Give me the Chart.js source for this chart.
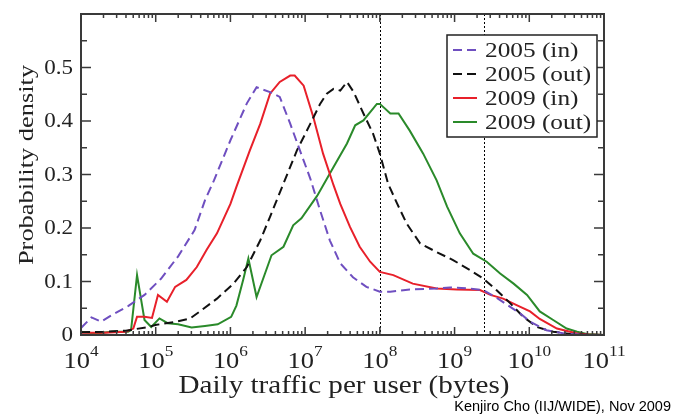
<!DOCTYPE html>
<html>
<head>
<meta charset="utf-8">
<script src="https://cdn.jsdelivr.net/npm/chart.js@4/dist/chart.umd.min.js"></script>
<style>
  body { margin: 0; background: #fff; }
</style>
</head>
<body>
<canvas id="myChart" width="673" height="417"></canvas>
<script>
// log10 of bytes per day, and probability density
const in2005X = [4.0, 4.14, 4.27, 4.41, 4.63, 4.85, 5.07, 5.3, 5.52, 5.66, 5.78, 6.0, 6.22, 6.35, 6.53, 6.66, 6.8, 6.93, 7.07, 7.2, 7.33, 7.47, 7.64, 7.82, 8.0, 8.14, 8.4, 8.76, 8.94, 9.2, 9.38, 9.56, 9.74, 9.88, 10.01, 10.23, 10.5, 10.8, 11.0];
const in2005Y = [0.013, 0.033, 0.025, 0.037, 0.054, 0.075, 0.105, 0.147, 0.196, 0.252, 0.289, 0.364, 0.433, 0.463, 0.454, 0.445, 0.395, 0.345, 0.292, 0.233, 0.177, 0.134, 0.108, 0.09, 0.081, 0.081, 0.085, 0.087, 0.089, 0.087, 0.084, 0.07, 0.053, 0.04, 0.025, 0.009, 0.002, 0.0, 0.0];

const out2005X = [4.0, 4.3, 4.6, 4.9, 5.01, 5.28, 5.46, 5.59, 5.82, 6.04, 6.22, 6.4, 6.53, 6.71, 6.89, 7.07, 7.2, 7.29, 7.38, 7.47, 7.56, 7.65, 7.78, 7.91, 8.0, 8.11, 8.23, 8.36, 8.54, 8.76, 8.98, 9.21, 9.38, 9.56, 9.74, 9.92, 10.1, 10.32, 10.6, 11.0];
const out2005Y = [0.005, 0.006, 0.008, 0.015, 0.019, 0.025, 0.031, 0.044, 0.068, 0.096, 0.127, 0.177, 0.221, 0.283, 0.345, 0.395, 0.432, 0.451, 0.46, 0.457, 0.473, 0.454, 0.414, 0.376, 0.339, 0.283, 0.246, 0.208, 0.171, 0.155, 0.14, 0.121, 0.106, 0.084, 0.06, 0.034, 0.015, 0.006, 0.001, 0.0];

const in2009X = [4.0, 4.3, 4.6, 4.7, 4.75, 4.85, 4.95, 5.03, 5.15, 5.26, 5.41, 5.55, 5.68, 5.82, 6.0, 6.08, 6.26, 6.4, 6.53, 6.66, 6.8, 6.86, 6.98, 7.11, 7.24, 7.38, 7.47, 7.6, 7.73, 7.87, 8.0, 8.18, 8.44, 8.76, 9.03, 9.34, 9.48, 9.65, 9.83, 10.01, 10.14, 10.37, 10.64, 10.8, 11.0];
const in2009Y = [0.004, 0.004, 0.006, 0.012, 0.034, 0.034, 0.032, 0.075, 0.062, 0.09, 0.103, 0.127, 0.159, 0.19, 0.245, 0.277, 0.345, 0.395, 0.451, 0.473, 0.485, 0.485, 0.466, 0.407, 0.339, 0.28, 0.245, 0.202, 0.165, 0.137, 0.118, 0.112, 0.096, 0.087, 0.085, 0.084, 0.075, 0.068, 0.056, 0.044, 0.03, 0.012, 0.003, 0.001, 0.0];

const out2009X = [4.0, 4.2, 4.41, 4.63, 4.67, 4.75, 4.85, 4.94, 5.05, 5.16, 5.3, 5.48, 5.66, 5.83, 6.01, 6.08, 6.17, 6.24, 6.35, 6.55, 6.71, 6.84, 6.95, 7.16, 7.38, 7.56, 7.67, 7.78, 7.96, 8.0, 8.14, 8.25, 8.4, 8.58, 8.76, 8.9, 9.07, 9.25, 9.43, 9.61, 9.79, 9.97, 10.14, 10.32, 10.5, 10.64, 10.77, 11.0];
const out2009Y = [0.006, 0.003, 0.006, 0.006, 0.009, 0.112, 0.028, 0.015, 0.031, 0.022, 0.02, 0.014, 0.017, 0.02, 0.034, 0.055, 0.103, 0.143, 0.071, 0.149, 0.165, 0.205, 0.218, 0.26, 0.314, 0.358, 0.392, 0.401, 0.432, 0.432, 0.414, 0.414, 0.382, 0.339, 0.289, 0.24, 0.19, 0.152, 0.137, 0.115, 0.096, 0.075, 0.044, 0.028, 0.012, 0.006, 0.002, 0.0];

const seriesLabels = ["2005 (in)", "2005 (out)", "2009 (in)", "2009 (out)"];
const seriesColors = ["#6f4fc0", "#111111", "#e8202a", "#2a8a2a"];
const seriesDash = [[9, 5], [9, 5], [], []];

const xTickExps = [4, 5, 6, 7, 8, 9, 10, 11];
const yTickLabels = ["0", "0.1", "0.2", "0.3", "0.4", "0.5"];
const markerLines = [1e8, 2.5e9]; // dotted verticals

const xTitle = "Daily traffic per user (bytes)";
const yTitle = "Probability density";
const credit = "Kenjiro Cho (IIJ/WIDE), Nov 2009";

const SERIF = "'Liberation Serif', 'DejaVu Serif', serif";
const STRETCH = 1.15;

function toPoints(xs, ys) {
  return xs.map((e, i) => ({ x: Math.pow(10, e), y: ys[i] }));
}

function stretchText(ctx, text, x, y, align, k) {
  ctx.save();
  ctx.translate(x, y);
  ctx.scale(k || STRETCH, 1);
  ctx.textAlign = align;
  ctx.fillText(text, 0, 0);
  ctx.restore();
}

const frame = {
  id: "frame",
  beforeDatasetsDraw(chart) {
    const { ctx, chartArea: a, scales: { x } } = chart;
    ctx.save();
    ctx.strokeStyle = "#000";
    ctx.lineWidth = 1;
    ctx.setLineDash([2, 2]);
    markerLines.forEach((v) => {
      const px = Math.round(x.getPixelForValue(v)) + 0.5;
      ctx.beginPath();
      ctx.moveTo(px, a.top);
      ctx.lineTo(px, a.bottom);
      ctx.stroke();
    });
    ctx.restore();
  },
  afterDraw(chart) {
    const { ctx, chartArea: a, scales: { x, y } } = chart;
    ctx.save();
    ctx.strokeStyle = "#3a3a3a";
    ctx.lineWidth = 2;
    ctx.strokeRect(a.left, a.top, a.right - a.left, a.bottom - a.top);

    // x ticks, inward on bottom and top
    ctx.lineWidth = 1.5;
    ctx.beginPath();
    for (let e = 4; e < 11; e++) {
      for (let m = 1; m <= 9; m++) {
        const px = x.getPixelForValue(m * Math.pow(10, e));
        const len = m === 1 ? 8 : 4;
        ctx.moveTo(px, a.bottom);
        ctx.lineTo(px, a.bottom - len);
        ctx.moveTo(px, a.top);
        ctx.lineTo(px, a.top + len);
      }
    }
    // y ticks, inward on left and right
    for (let i = 0; i <= 12; i++) {
      const py = y.getPixelForValue(i * 0.05);
      const len = i % 2 === 0 ? 10 : 6;
      ctx.moveTo(a.left, py);
      ctx.lineTo(a.left + len, py);
      ctx.moveTo(a.right, py);
      ctx.lineTo(a.right - len, py);
    }
    ctx.stroke();

    // x tick labels 10^n
    ctx.fillStyle = "#222";
    ctx.textBaseline = "alphabetic";
    xTickExps.forEach((e) => {
      const px = x.getPixelForValue(Math.pow(10, e));
      ctx.font = "23px " + SERIF;
      const wBase = ctx.measureText("10").width * STRETCH;
      ctx.font = "15px " + SERIF;
      const wExp = ctx.measureText(String(e)).width * STRETCH;
      const left = px - (wBase + wExp) / 2;
      ctx.font = "23px " + SERIF;
      stretchText(ctx, "10", left, 368, "left");
      ctx.font = "15px " + SERIF;
      stretchText(ctx, String(e), left + wBase, 356, "left");
    });

    // y tick labels
    ctx.font = "20px " + SERIF;
    ctx.textBaseline = "middle";
    yTickLabels.forEach((t) => {
      const py = y.getPixelForValue(parseFloat(t));
      stretchText(ctx, t, 73, py + 1, "right");
    });

    // axis titles
    ctx.textBaseline = "alphabetic";
    ctx.font = "26px " + SERIF;
    stretchText(ctx, xTitle, 344, 393, "center", 1.12);
    ctx.font = "22px " + SERIF;
    ctx.save();
    ctx.translate(33, 165);
    ctx.rotate(-Math.PI / 2);
    stretchText(ctx, yTitle, 0, 0, "center", 1.2);
    ctx.restore();

    // legend
    const lx = 447, ly = 35, lw = 150, lh = 102;
    ctx.fillStyle = "#fff";
    ctx.fillRect(lx, ly, lw, lh);
    ctx.strokeStyle = "#222";
    ctx.lineWidth = 1.5;
    ctx.strokeRect(lx, ly, lw, lh);
    seriesLabels.forEach((lab, i) => {
      const base = 57 + i * 24;
      ctx.strokeStyle = seriesColors[i];
      ctx.lineWidth = 2;
      ctx.setLineDash(seriesDash[i]);
      ctx.beginPath();
      ctx.moveTo(453, base - 7);
      ctx.lineTo(477, base - 7);
      ctx.stroke();
      ctx.setLineDash([]);
      ctx.fillStyle = "#222";
      ctx.font = "22px " + SERIF;
      stretchText(ctx, lab, 485, base, "left");
    });

    // credit line
    ctx.font = "14.5px 'Liberation Sans', Arial, sans-serif";
    ctx.fillStyle = "#000";
    ctx.textAlign = "right";
    ctx.fillText(credit, 671, 411);
    ctx.restore();
  },
};

const xs = [in2005X, out2005X, in2009X, out2009X];
const ys = [in2005Y, out2005Y, in2009Y, out2009Y];

new Chart(document.getElementById("myChart").getContext("2d"), {
  type: "line",
  data: {
    datasets: seriesLabels.map((lab, i) => ({
      label: lab,
      data: toPoints(xs[i], ys[i]),
      borderColor: seriesColors[i],
      borderDash: seriesDash[i],
      borderWidth: 2,
      pointRadius: 0,
      tension: 0,
      fill: false,
    })),
  },
  options: {
    responsive: false,
    animation: false,
    layout: { padding: { left: 81, right: 69, top: 14, bottom: 82 } },
    plugins: { legend: { display: false }, tooltip: { enabled: false } },
    scales: {
      x: { type: "logarithmic", min: 1e4, max: 1e11, display: false },
      y: { type: "linear", min: 0, max: 0.6, display: false },
    },
  },
  plugins: [frame],
});
</script>
</body>
</html>
